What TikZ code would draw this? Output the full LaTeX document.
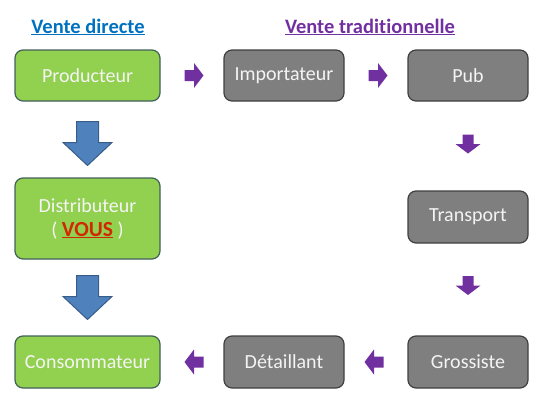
\documentclass[tikz,border=0pt]{standalone}
\usepackage{fontspec}
\setmainfont[Ligatures=NoCommon]{Carlito}
\usetikzlibrary{calc}
\definecolor{boxgreen}{HTML}{92D050}
\definecolor{greenline}{HTML}{41605A}
\definecolor{boxgray}{HTML}{7F7F7F}
\definecolor{grayline}{HTML}{404040}
\definecolor{boxtext}{HTML}{F4F4F4}
\definecolor{arrowblue}{HTML}{4F81BD}
\definecolor{arrowblueline}{HTML}{385D8A}
\definecolor{arrowpurple}{HTML}{7030A0}
\definecolor{titleblue}{HTML}{0070C0}
\definecolor{vousred}{HTML}{D02800}

\begin{document}
\begin{tikzpicture}[x=1pt,y=-1pt,
		greenbox/.style={draw=greenline, fill=boxgreen, line width=1.2pt, rounded corners=8pt, minimum width=145pt, minimum height=51pt, inner sep=0pt, text=boxtext, font=\fontsize{20}{24}\selectfont, align=center},
		graybox/.style={greenbox, draw=grayline, fill=boxgray, minimum width=120pt},
		bluearrow/.style={fill=arrowblue, draw=arrowblueline, line width=1pt},
		purplearrow/.style={fill=arrowpurple, draw=none},
		titletext/.style={font=\fontsize{20.5}{24}\selectfont\bfseries}]
		\useasboundingbox (0,0) rectangle (542,407);
		% titles
		\node[titletext, text=titleblue] (direct) at (88,27) {\underline{Vente directe}};
		\node[titletext, text=arrowpurple] (trad) at (370,27) {\underline{Vente traditionnelle}};
		% vente directe
		\node[greenbox] (prod) at (87.5,75.5) {Producteur};
		\node[greenbox, minimum height=81pt] (dist) at (87.5,218.5) {Distributeur\\( {\color{vousred}\fontsize{21.5}{24}\selectfont\bfseries\underline{VOUS}} )};
		\node[greenbox, minimum height=52pt] (cons) at (87.5,362) {Consommateur};
		% vente traditionnelle
		\node[graybox] (imp) at (284,75.5) {Importateur};
		\node[graybox] (pub) at (468,75.5) {Pub};
		\node[graybox, minimum height=52pt] (trans) at (468,217) {Transport};
		\node[graybox, minimum height=52pt] (gros) at (468,362) {Grossiste};
		\node[graybox, minimum height=52pt] (det) at (284,362) {Détaillant};
		% block arrows
		\coordinate (A) at ($(prod.south)!0.5!(dist.north)+(0,4)$);
		\coordinate (B) at ($(dist.south)!0.5!(cons.north)$);
		\draw[bluearrow, shift={(A)}, rotate=-90] (-22,-11) -- (-1,-11) -- (-1,-24.5) -- (22,0) -- (-1,24.5) -- (-1,11) -- (-22,11) -- cycle;
		\draw[bluearrow, shift={(B)}, rotate=-90] (-22,-11) -- (-1,-11) -- (-1,-24.5) -- (22,0) -- (-1,24.5) -- (-1,11) -- (-22,11) -- cycle;
		\coordinate (C) at ($(prod.east)!0.5!(imp.west)+(2,0)$);
		\coordinate (D) at ($(imp.east)!0.5!(pub.west)+(2,0)$);
		\coordinate (E) at ($(pub.south)!0.5!(trans.north)+(0,-2)$);
		\coordinate (F) at ($(trans.south)!0.5!(gros.north)+(0,-4)$);
		\coordinate (G) at ($(gros.west)!0.5!(det.east)+(-2,0)$);
		\coordinate (H) at ($(det.west)!0.5!(cons.east)+(2,0)$);
		\draw[purplearrow, shift={(C)}] (-9.5,-5.5) -- (0,-5.5) -- (0,-12.5) -- (9.5,0) -- (0,12.5) -- (0,5.5) -- (-9.5,5.5) -- cycle;
		\draw[purplearrow, shift={(D)}] (-9.5,-5.5) -- (0,-5.5) -- (0,-12.5) -- (9.5,0) -- (0,12.5) -- (0,5.5) -- (-9.5,5.5) -- cycle;
		\draw[purplearrow, shift={(E)}, rotate=-90] (-9.5,-5.5) -- (0,-5.5) -- (0,-12.5) -- (9.5,0) -- (0,12.5) -- (0,5.5) -- (-9.5,5.5) -- cycle;
		\draw[purplearrow, shift={(F)}, rotate=-90] (-9.5,-5.5) -- (0,-5.5) -- (0,-12.5) -- (9.5,0) -- (0,12.5) -- (0,5.5) -- (-9.5,5.5) -- cycle;
		\draw[purplearrow, shift={(G)}, rotate=180] (-9.5,-5.5) -- (0,-5.5) -- (0,-12.5) -- (9.5,0) -- (0,12.5) -- (0,5.5) -- (-9.5,5.5) -- cycle;
		\draw[purplearrow, shift={(H)}, rotate=180] (-9.5,-5.5) -- (0,-5.5) -- (0,-12.5) -- (9.5,0) -- (0,12.5) -- (0,5.5) -- (-9.5,5.5) -- cycle;
	\end{tikzpicture}
\end{document}
